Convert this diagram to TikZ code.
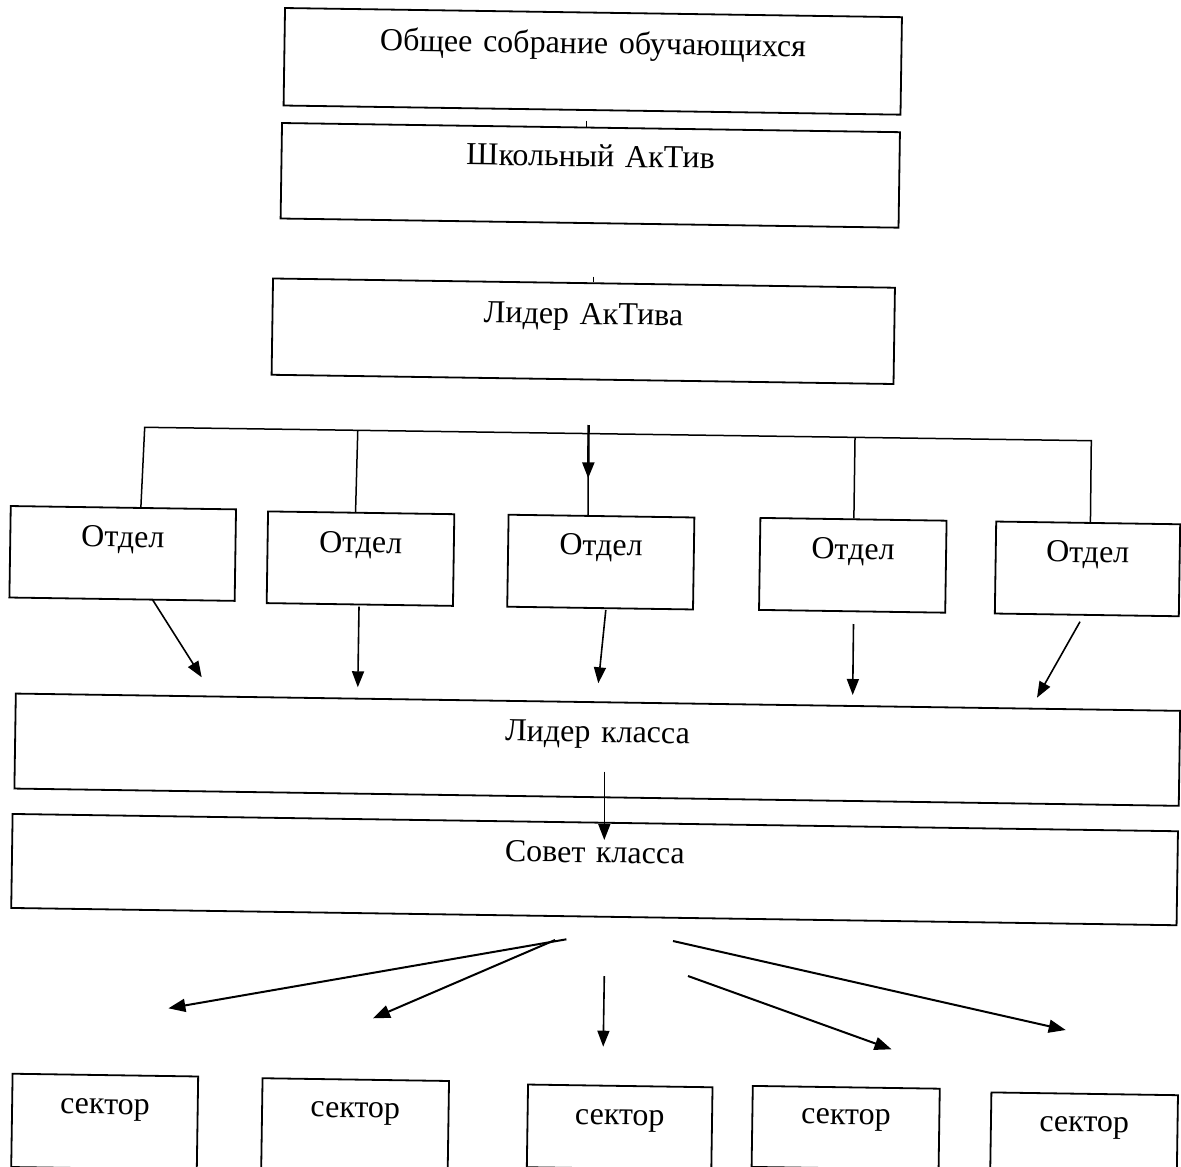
\documentclass[tikz,border=0pt]{standalone}
\usepackage{fontspec}
\setmainfont{Liberation Serif}
\usetikzlibrary{arrows.meta,calc}
\begin{document}
\begin{tikzpicture}[x=1pt,y=-1pt,
  box/.style={draw, line width=1.8pt, rectangle, inner sep=0pt, align=center,
    rotate=-0.85, anchor=north, font=\fontsize{32}{38}\selectfont},
  conn/.style={line width=1.5pt},
  tickline/.style={line width=1pt},
  arr/.style={line width=1.6pt, -{Triangle[length=16pt,width=12pt]}},
  sarr/.style={line width=2pt, -{Triangle[length=17pt,width=13pt]}},
  ]
\useasboundingbox (0,0) rectangle (1181,1167);

% boxes
\node[box, text width=617pt, text height=41pt, text depth=56.5pt] (obshee) at (593.5,11.7) {Общее собрание обучающихся};
\node[box, text width=618pt, text height=39pt, text depth=56.5pt] (shkol) at (591,126.7) {Школьный АкТив};
\node[box, text width=622pt, text height=41pt, text depth=55.3pt] (lider) at (584,282.2) {Лидер АкТива};
\node[box, text width=225.3pt, text height=39.5pt, text depth=52pt] (otd1) at (123.4,506.8) {Отдел};
\node[box, text width=186.3pt, text height=40pt, text depth=51.7pt] (otd2) at (361.2,511.9) {Отдел};
\node[box, text width=185.8pt, text height=39.5pt, text depth=52.5pt] (otd3) at (601.5,515.2) {Отдел};
\node[box, text width=186.2pt, text height=40pt, text depth=52pt] (otd4) at (853.5,518.4) {Отдел};
\node[box, text width=184pt, text height=39.5pt, text depth=52.5pt] (otd5) at (1088.2,522) {Отдел};
\node[box, text width=1164.5pt, text height=40pt, text depth=55pt] (liderk) at (598,701.3) {Лидер класса};
\node[box, text width=1165.5pt, text height=40pt, text depth=54pt] (sovet) at (595.3,821.7) {Совет класса};
\node[box, text width=185.6pt, text height=39pt, text depth=54.3pt] (sec1) at (105.4,1074.2) {сектор};
\node[box, text width=186.5pt, text height=38pt, text depth=54pt] (sec2) at (355.8,1078.7) {сектор};
\node[box, text width=184.5pt, text height=39pt, text depth=43.7pt] (sec3) at (620.3,1085) {сектор};
\node[box, text width=187pt, text height=37pt, text depth=44pt] (sec4) at (846.3,1086.4) {сектор};
\node[box, text width=186.6pt, text height=38pt, text depth=54pt] (sec5) at (1084.7,1092.9) {сектор};

% small stubs
\coordinate (tk1) at (586.7,120.5);
\coordinate (tk2) at (593,276.5);
\draw[tickline] (tk1) -- (tk1 |- shkol.north);
\draw[tickline] (tk2) -- (tk2 |- lider.north);

% distribution bar
\coordinate (bL) at (144.7,427.3);
\coordinate (bR) at (1091.3,440.7);
\draw[conn] ($(otd1.north west)!0.577!(otd1.north east)$) -- (bL) -- (bR)
  -- ($(otd5.north west)!0.512!(otd5.north east)$);
\draw[conn] ($(bL)!0.2251!(bR)$) -- ($(otd2.north west)!0.47!(otd2.north east)$);
\draw[conn] ($(bL)!0.4688!(bR)$) -- ($(otd3.north west)!0.428!(otd3.north east)$);
\draw[conn] ($(bL)!0.7504!(bR)$) -- ($(otd4.north west)!0.502!(otd4.north east)$);

% central arrow from the leader
\coordinate (c0) at (588.6,425);
\coordinate (c1) at (588.2,478.3);
\draw[arr, line width=2.4pt] (c0) -- (c1);

% arrows from departments
\coordinate (a1s) at (152.3,599.3);  \coordinate (a1e) at (201.7,677.3);
\coordinate (a2s) at (359,606.7);    \coordinate (a2e) at (357.8,687.3);
\coordinate (a3s) at (605.8,610);    \coordinate (a3e) at (598.3,683.3);
\coordinate (a4s) at (853.5,624);    \coordinate (a4e) at (852.7,695);
\coordinate (a5s) at (1080,621.7);   \coordinate (a5e) at (1037,697.7);
\draw[arr] (a1s) -- (a1e);
\draw[arr] (a2s) -- (a2e);
\draw[arr] (a3s) -- (a3e);
\draw[arr] (a4s) -- (a4e);
\draw[arr] (a5s) -- (a5e);

% leader of class -> council
\coordinate (k0) at (604.3,771.7);
\coordinate (k1) at (604.3,840);
\draw[arr] (k0) -- (k1);

% council -> sectors
\coordinate (s1s) at (566.4,939.3);  \coordinate (s1e) at (168.4,1008.3);
\coordinate (s2s) at (555,940);      \coordinate (s2e) at (373,1018.3);
\coordinate (s3s) at (604.3,976);    \coordinate (s3e) at (603.2,1046.7);
\coordinate (s4s) at (688,976);      \coordinate (s4e) at (891.5,1049.3);
\coordinate (s5s) at (673,941);      \coordinate (s5e) at (1065.7,1030);
\draw[sarr] (s1s) -- (s1e);
\draw[sarr] (s2s) -- (s2e);
\draw[arr] (s3s) -- (s3e);
\draw[sarr] (s4s) -- (s4e);
\draw[sarr] (s5s) -- (s5e);
\end{tikzpicture}
\end{document}
